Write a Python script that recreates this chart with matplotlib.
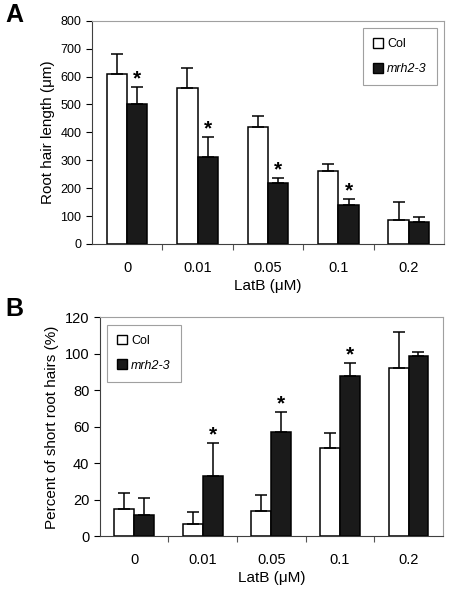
import matplotlib
matplotlib.use("Agg")
import matplotlib.pyplot as plt
import numpy as np
from matplotlib.patches import Patch

plt.rcParams['font.family'] = ['Liberation Sans', 'DejaVu Sans']

categories = ["0", "0.01", "0.05", "0.1", "0.2"]

# Panel A: root hair length (um)
a_col = [610, 560, 420, 260, 87]
a_col_err = [70, 72, 40, 27, 63]
a_mrh = [500, 313, 218, 140, 78]
a_mrh_err = [62, 72, 19, 20, 20]
a_sig = [True, True, True, True, False]

# Panel B: percent of short root hairs (%)
b_col = [15, 7, 14, 48.5, 92]
b_col_err = [8.5, 6.5, 8.5, 8, 20]
b_mrh = [11.5, 33, 57, 88, 99]
b_mrh_err = [9.5, 18, 11, 7, 2]
b_sig = [False, True, True, True, False]

fig = plt.figure(figsize=(4.5, 5.95), dpi=100)
axA = fig.add_axes([0.204, 0.590, 0.783, 0.375])
axB = fig.add_axes([0.222, 0.0986, 0.762, 0.368])

w = 0.29
def draw(ax, col, col_err, mrh, mrh_err, sig, ymax, ystep, ylabel, ytick_fs, legloc):
    x = np.arange(len(categories))
    ax.bar(x - w/2, col, w, color='white', edgecolor='black', linewidth=1.1, zorder=2)
    ax.bar(x + w/2, mrh, w, color='#1a1a1a', edgecolor='black', linewidth=1.1, zorder=2)
    ax.errorbar(x - w/2, col, yerr=[np.zeros(len(col)), col_err], fmt='none',
                ecolor='black', elinewidth=1.1, capsize=4, capthick=1.1, zorder=3)
    ax.errorbar(x + w/2, mrh, yerr=[np.zeros(len(mrh)), mrh_err], fmt='none',
                ecolor='black', elinewidth=1.1, capsize=4, capthick=1.1, zorder=3)
    for i, s in enumerate(sig):
        if s:
            ax.annotate('*', (x[i] + w/2, mrh[i] + mrh_err[i]), xytext=(0, -1),
                        textcoords='offset points', ha='center', va='bottom',
                        fontsize=15, fontweight='bold')
    ax.set_xlim(-0.5, len(categories) - 0.5)
    ax.set_ylim(0, ymax)
    ax.set_yticks(np.arange(0, ymax + 1, ystep))
    ax.tick_params(axis='y', labelsize=ytick_fs, length=4, direction='out', width=0.8)
    ax.set_xticks(x)
    ax.set_xticklabels(categories, fontsize=10.5)
    ax.tick_params(axis='x', which='major', length=0, pad=12)
    ax.set_xticks(np.arange(0.5, len(categories) - 0.5, 1), minor=True)
    ax.tick_params(axis='x', which='minor', length=4, direction='out', width=0.8, color='#555555')
    for s in ['top', 'right']:
        ax.spines[s].set_color('#a0a0a0')
        ax.spines[s].set_linewidth(0.8)
    for s in ['left', 'bottom']:
        ax.spines[s].set_color('#404040')
        ax.spines[s].set_linewidth(0.8)
    ax.set_xlabel('LatB (\u03bcM)', fontsize=11, labelpad=3)
    ax.set_ylabel(ylabel, fontsize=11)
    handles = [Patch(facecolor='white', edgecolor='black', linewidth=1.0),
               Patch(facecolor='#1a1a1a', edgecolor='black', linewidth=1.0)]
    leg = ax.legend(handles, ['Col', 'mrh2-3'], loc=legloc, fontsize=9,
                    handlelength=0.8, handleheight=0.8, handletextpad=0.3,
                    labelspacing=1.0, borderpad=0.8, fancybox=False, framealpha=1,
                    edgecolor='#a0a0a0', borderaxespad=0.6)
    leg.get_frame().set_linewidth(0.8)
    leg.get_texts()[1].set_style('italic')

draw(axA, a_col, a_col_err, a_mrh, a_mrh_err, a_sig, 800, 100,
     'Root hair length (\u03bcm)', 9, 'upper right')
draw(axB, b_col, b_col_err, b_mrh, b_mrh_err, b_sig, 120, 20,
     'Percent of short root hairs (%)', 10.5, 'upper left')

fig.text(0.012, 0.995, 'A', fontsize=18, fontweight='bold', va='top', ha='left')
fig.text(0.012, 0.500, 'B', fontsize=18, fontweight='bold', va='top', ha='left')

fig.savefig('out.png', dpi=100)
